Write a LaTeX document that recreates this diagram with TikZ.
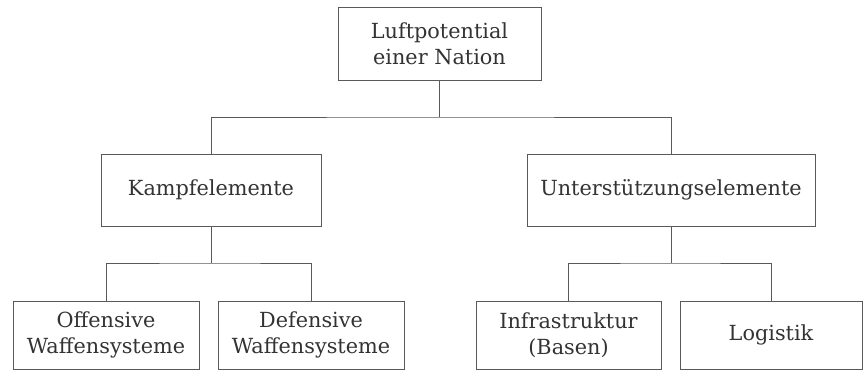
\documentclass[tikz,border=0pt]{standalone}
\usepackage{fontspec}
\setmainfont{DejaVu Serif}
\begin{document}
\begin{tikzpicture}[x=1pt,y=-1pt,
  box/.style={draw=black!65, line width=0.7pt, align=center, inner sep=0pt,
    text=black!80, font=\fontsize{20.8}{26}\selectfont},
  conn/.style={draw=black!65, line width=0.7pt}]
\useasboundingbox (0,0) rectangle (863,371);
\node[box, minimum width=203pt, minimum height=73pt] (top) at (439.5,43.5) {Luftpotential\\einer Nation};
\node[box, minimum width=220pt, minimum height=72pt] (k) at (211,190) {Kampfelemente};
\node[box, minimum width=288pt, minimum height=72pt] (u) at (671,190) {Unterstützungselemente};
\node[box, minimum width=186pt, minimum height=68pt] (o) at (106,335) {Offensive\\Waffensysteme};
\node[box, minimum width=186pt, minimum height=68pt] (d) at (311,335) {Defensive\\Waffensysteme};
\node[box, minimum width=185pt, minimum height=68pt] (i) at (568.5,335) {Infrastruktur\\(Basen)};
\node[box, minimum width=182pt, minimum height=68pt] (l) at (771,335) {Logistik};
\coordinate (bus1) at (0,117);
\coordinate (bus2) at (0,263);
\draw[conn] (top.south) -- (top.south |- bus1);
\draw[conn] (k.north) |- (top.south |- bus1) -| (u.north);
\draw[conn] (k.south) -- (k.south |- bus2);
\draw[conn] (o.north) |- (k.south |- bus2) -| (d.north);
\draw[conn] (u.south) -- (u.south |- bus2);
\draw[conn] (i.north) |- (u.south |- bus2) -| (l.north);
\end{tikzpicture}
\end{document}
